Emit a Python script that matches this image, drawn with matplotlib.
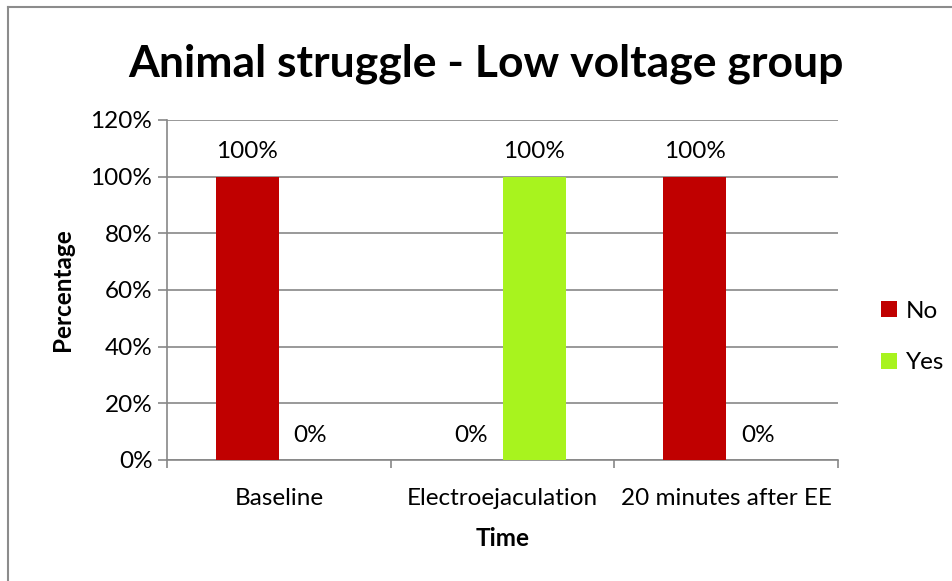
import matplotlib
matplotlib.use("Agg")
import matplotlib.pyplot as plt
from matplotlib.lines import Line2D
from matplotlib.patches import Patch
import numpy as np

plt.rcParams['font.family'] = ['Lato', 'DejaVu Sans']

categories = ["Baseline", "Electroejaculation", "20 minutes after EE"]
series_names = ["No", "Yes"]
no_values = [100, 0, 100]
yes_values = [0, 100, 0]
y_ticks = [0, 20, 40, 60, 80, 100, 120]

W, H = 952, 581
DPI = 100
fig = plt.figure(figsize=(W / DPI, H / DPI), dpi=DPI)

def px_rect(left, top, right, bottom):
    return [left / W, 1 - bottom / H, (right - left) / W, (bottom - top) / H]

ax = fig.add_axes(px_rect(167, 120, 838, 460))

colors = ["#C00000", "#A8F31E"]
grid_col = "#878787"
bar_w = 0.282
fs = 17.5
x = np.arange(len(categories))

for i, (vals, col, name) in enumerate(zip([no_values, yes_values], colors, series_names)):
    offs = (i - 0.5) * bar_w
    ax.bar(x + offs, vals, width=bar_w, color=col, label=name, zorder=3)
    for xi, v in zip(x + offs, vals):
        ax.annotate(f"{v}%", xy=(xi, v), xytext=(0, 18), textcoords="offset points",
                    ha="center", va="center", fontsize=fs, color="black", zorder=4)

ax.set_xlim(-0.5, len(categories) - 0.5)
ax.set_ylim(0, 120)
ax.set_yticks(y_ticks)
ax.set_yticklabels([f"{t}%" for t in y_ticks], fontsize=fs)
ax.yaxis.grid(True, color=grid_col, linewidth=1.2, zorder=0)
ax.set_axisbelow(True)

ax.set_xticks(np.arange(-0.5, len(categories)), labels=[""] * (len(categories) + 1))
ax.set_xticks(x, minor=True)
ax.set_xticklabels(categories, minor=True, fontsize=fs)
ax.tick_params(axis="x", which="major", length=6, width=1.2, color=grid_col, direction="out")
ax.tick_params(axis="x", which="minor", length=0, pad=20)
ax.tick_params(axis="y", length=6.5, width=1.2, color=grid_col, direction="out", pad=4)

for s in ["top", "right"]:
    ax.spines[s].set_visible(False)
for s in ["left", "bottom"]:
    ax.spines[s].set_color(grid_col)
    ax.spines[s].set_linewidth(1.2)

ax.set_ylabel("Percentage", fontsize=fs, fontweight="bold", labelpad=12)
ax.set_xlabel("Time", fontsize=fs, fontweight="bold", labelpad=13)

fig.text(486 / W, 1 - 64 / H, "Animal struggle - Low voltage group",
         ha="center", va="center", fontsize=32, fontweight="bold")

handles = [Patch(facecolor=c, edgecolor="none") for c in colors]
fig.legend(handles, series_names, loc="center left",
           bbox_to_anchor=(871 / W, 1 - 337 / H), frameon=False,
           fontsize=fs, handlelength=0.65, handleheight=0.65,
           handletextpad=0.4, labelspacing=1.25, borderaxespad=0)

# outer chart frame (left and top edges)
fig.add_artist(Line2D([8 / W, 8 / W], [0, 1 - 7 / H], color="#8c8c8c", linewidth=1.5,
                      transform=fig.transFigure))
fig.add_artist(Line2D([8 / W, 1], [1 - 7 / H, 1 - 7 / H], color="#8c8c8c", linewidth=1.5,
                      transform=fig.transFigure))

fig.savefig("out.png", dpi=DPI)
